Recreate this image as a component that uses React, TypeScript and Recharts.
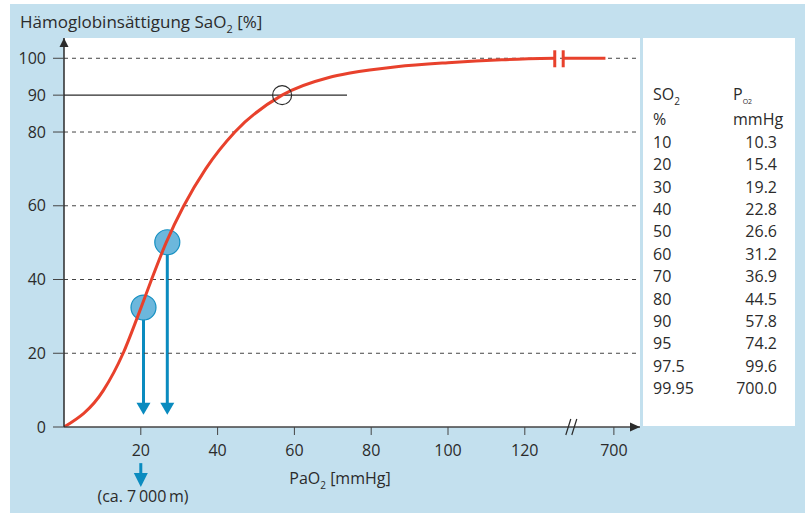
import React from "react";
import { ComposedChart, Line, XAxis, YAxis, ReferenceLine, ReferenceDot, ReferenceArea } from "recharts";

const FONT = "'Open Sans', sans-serif";
const INK = "#2b2b2b";
const RED = "#e8412c";
const BLUE = "#0a8bbf";
const PANEL = "#c3e0ee";

// O2-Bindungskurve
const curvePao2 = [0, 10.3, 15.4, 19.2, 22.8, 26.6, 31.2, 36.9, 44.5, 56.8, 69, 74.5, 86.6, 100, 114, 127.8];
const curveSao2 = [0, 10, 20, 30, 40, 50, 60, 70, 80, 90, 94.8, 96, 97.7, 98.8, 99.6, 100];
// Stück hinter dem Achsenbruch
const tailPao2 = [640, 690];
const tailSao2 = [100, 100];

const xTickValues = [20, 40, 60, 80, 100, 120, 700];
const yTickValues = [0, 20, 40, 60, 80, 90, 100];
const gridValues = [20, 40, 60, 80, 100];

// Höhenpunkte (blaue Kreise)
const markerPao2 = [20.7, 26.9];
const markerSao2 = [32.4, 50.1];
const arrowTip = 3.3;

// Tabelle rechts
const tableSo2 = ["10", "20", "30", "40", "50", "60", "70", "80", "90", "95", "97.5", "99.95"];
const tablePo2 = ["10.3", "15.4", "19.2", "22.8", "26.6", "31.2", "36.9", "44.5", "57.8", "74.2", "99.6", "700.0"];

// alles über 200 mmHg wird hinter das "//" gestaucht
const breakX = (p: number) => (p < 200 ? p : 130 + (p - 640) * 0.22);

const curveData = curvePao2.map((p, i) => ({ x: breakX(p), y: curveSao2[i] }));
const tailData = tailPao2.map((p, i) => ({ x: breakX(p), y: tailSao2[i] }));
const markerData = markerPao2.map((p, i) => ({ x: p, y: markerSao2[i] }));
const xTicks = xTickValues.map(breakX);

const arrowPath = (cx: number, top: number, tip: number, head: number, w: number) => (
  <g>
    <line x1={cx} y1={top} x2={cx} y2={tip - head + 1} stroke={BLUE} strokeWidth={3} />
    <polygon points={`${cx - w},${tip - head} ${cx + w},${tip - head} ${cx},${tip}`} fill={BLUE} />
  </g>
);

// shapes for ReferenceArea get the rect in pixels
const AreaArrow = ({ x, y, width, height }: any) => arrowPath(x + width / 2, y, y + height, 12, 7);
const AreaDot = ({ x, y, width, height }: any) => (
  <circle cx={x + width / 2} cy={y + height / 2} r={12.5} fill="#6cb7dc" stroke="#1590c2" strokeWidth={1.2} />
);
const SegArrow = ({ x1, y1, y2 }: any) => arrowPath(x1, y1, y2, 14, 7);

const UpTriangle = ({ cx, cy }: any) => (
  <polygon points={`${cx},${cy} ${cx - 4.5},${cy + 9} ${cx + 4.5},${cy + 9}`} fill={INK} />
);
const RightTriangle = ({ cx, cy }: any) => (
  <polygon points={`${cx},${cy} ${cx - 10},${cy - 4.5} ${cx - 10},${cy + 4.5}`} fill={INK} />
);
const AxisBreak = ({ cx, cy }: any) => (
  <g stroke={INK} strokeWidth={1.2}>
    <line x1={cx - 7} y1={cy + 8} x2={cx - 2} y2={cy - 8} />
    <line x1={cx - 1} y1={cy + 8} x2={cx + 4} y2={cy - 8} />
  </g>
);
const CurveBreak = ({ cx, cy }: any) => (
  <line x1={cx} y1={cy - 8} x2={cx} y2={cy + 9} stroke={RED} strokeWidth={3} />
);
const OpenRing = ({ cx, cy }: any) => (
  <circle cx={cx} cy={cy} r={9.5} fill="none" stroke={INK} strokeWidth={1.2} />
);

const tick = { fill: INK, fontSize: 16, fontFamily: FONT };

export default function App() {
  return (
    <div style={{ position: "absolute", left: 0, top: 0, width: 805, height: 513, background: "#fff", fontFamily: FONT }}>
      <div style={{ position: "absolute", left: 10, top: 4, right: 0, bottom: 0, background: PANEL }} />
      <div style={{ position: "absolute", left: 64, top: 38, width: 576, height: 389, background: "#fff" }} />
      <div style={{ position: "absolute", left: 643, top: 38, width: 152, height: 388, background: "#fff" }} />
      <div style={{ position: "absolute", left: 0, top: 0 }}>
        <ComposedChart width={805} height={513} margin={{ top: 38, right: 165, bottom: 56, left: 0 }}>
          <XAxis
            type="number"
            dataKey="x"
            domain={[0, 150]}
            ticks={xTicks}
            interval={0}
            allowDataOverflow
            tickFormatter={(v: number) => String(xTickValues[xTicks.indexOf(v)] ?? v)}
            tickSize={8}
            tickMargin={10}
            height={30}
            stroke="#444"
            axisLine={{ stroke: "#444", strokeWidth: 1.5 }}
            tick={tick}
          />
          <YAxis
            type="number"
            dataKey="y"
            domain={[0, 105.5]}
            ticks={yTickValues}
            interval={0}
            allowDataOverflow
            tickSize={11}
            tickMargin={7}
            width={64}
            axisLine={{ stroke: INK, strokeWidth: 1.5 }}
            tickLine={{ stroke: "#444" }}
            tick={tick}
          />
          {gridValues.map((v) => (
            <ReferenceLine key={v} y={v} stroke="#444" strokeDasharray="4 4" strokeWidth={1} />
          ))}
          <ReferenceLine segment={[{ x: 0, y: 90 }, { x: 73.7, y: 90 }]} stroke={INK} strokeWidth={1.2} />
          {markerData.map((m) => (
            <ReferenceArea key={"a" + m.x} x1={m.x - 0.1} x2={m.x + 0.1} y1={arrowTip} y2={m.y} shape={AreaArrow} />
          ))}
          {markerData.map((m) => (
            <ReferenceArea key={"d" + m.x} x1={m.x - 0.1} x2={m.x + 0.1} y1={m.y - 0.1} y2={m.y + 0.1} shape={AreaDot} />
          ))}
          <ReferenceLine segment={[{ x: 20, y: -9.8 }, { x: 20, y: -16.3 }]} ifOverflow="visible" shape={SegArrow} />
          <Line data={curveData} dataKey="y" type="monotone" stroke={RED} strokeWidth={3} dot={false} activeDot={false} isAnimationActive={false} />
          <Line data={tailData} dataKey="y" type="linear" stroke={RED} strokeWidth={3} dot={false} activeDot={false} isAnimationActive={false} />
          <ReferenceDot x={breakX(127.8)} y={100} ifOverflow="visible" shape={CurveBreak} />
          <ReferenceDot x={breakX(640)} y={100} ifOverflow="visible" shape={CurveBreak} />
          <ReferenceDot x={56.8} y={90} ifOverflow="visible" shape={OpenRing} />
          <ReferenceDot x={132.5} y={0} ifOverflow="visible" shape={AxisBreak} />
          <ReferenceDot x={0} y={105.5} ifOverflow="visible" shape={UpTriangle} />
          <ReferenceDot x={150} y={0} ifOverflow="visible" shape={RightTriangle} />
        </ComposedChart>
      </div>
      <svg width={805} height={513} style={{ position: "absolute", left: 0, top: 0, pointerEvents: "none" }} fontFamily={FONT} fill={INK}>
        <text x={20} y={28} fontSize={17}>
          Hämoglobinsättigung SaO<tspan dy={5} fontSize={11}>2</tspan>
          <tspan dy={-5}> [%]</tspan>
        </text>
        <text x={340} y={484} fontSize={16} textAnchor="middle">
          PaO<tspan dy={5} fontSize={10}>2</tspan>
          <tspan dy={-5}> [mmHg]</tspan>
        </text>
        <text x={143} y={502} fontSize={16} textAnchor="middle">(ca. 7{"\u2009"}000{"\u2009"}m)</text>
        <text x={653} y={100} fontSize={16}>
          SO<tspan dy={5} fontSize={10}>2</tspan>
        </text>
        <text x={653} y={125} fontSize={16}>%</text>
        <text x={733} y={100} fontSize={16}>
          P<tspan dy={4} fontSize={7}>O2</tspan>
        </text>
        <text x={733} y={125} fontSize={16}>mmHg</text>
        {tableSo2.map((s, i) => (
          <text key={s} x={653} y={148 + i * 22.36} fontSize={16}>{s}</text>
        ))}
        {tablePo2.map((s, i) => (
          <text key={s} x={777} y={148 + i * 22.36} fontSize={16} textAnchor="end">{s}</text>
        ))}
      </svg>
    </div>
  );
}
